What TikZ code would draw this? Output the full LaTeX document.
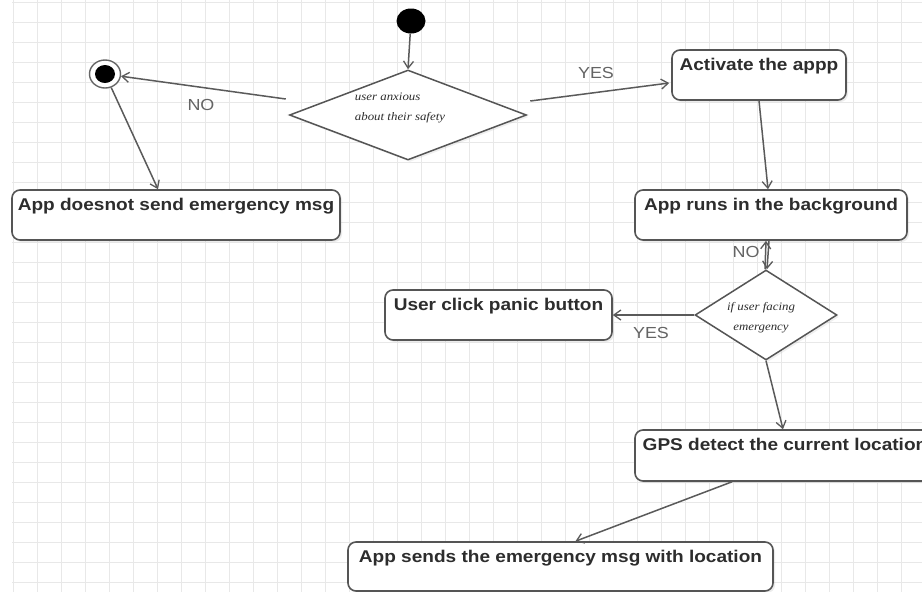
\documentclass[tikz,border=0pt]{standalone}
\usepackage{fontspec}
\setmainfont{Liberation Sans}
\newfontfamily\stretchsans[FakeStretch=1.12]{Liberation Sans}
\newfontfamily\dfont[FakeStretch=1.12]{Liberation Serif}
\usetikzlibrary{shapes.geometric,arrows.meta,shadows}
\definecolor{gridc}{RGB}{232,232,232}
\definecolor{linec}{RGB}{85,85,85}
\definecolor{edgec}{RGB}{90,90,90}
\definecolor{lblc}{RGB}{100,100,100}
\definecolor{txtc}{RGB}{45,45,45}
\begin{document}
\begin{tikzpicture}[x=1pt,y=-1pt,
  actbox/.style={rectangle, rounded corners=8pt, draw=linec, line width=1.6pt, fill=white, inner sep=0,
    drop shadow={shadow xshift=2pt,shadow yshift=-2pt,opacity=.15}},
  boxtxt/.style={font=\stretchsans\bfseries\fontsize{17}{20}\selectfont, text=txtc, anchor=north, inner sep=0, yshift=-9pt},
  decision/.style={diamond, draw=linec, line width=1.5pt, fill=white, inner sep=0,
    drop shadow={shadow xshift=2pt,shadow yshift=-2pt,opacity=.12}},
  dtxt/.style={font=\dfont\itshape\fontsize{11.5}{20}\selectfont, text=txtc, inner sep=0},
  lbl/.style={font=\stretchsans\fontsize{16}{18}\selectfont, text=lblc, inner sep=0},
  flow/.style={draw=edgec, line width=1.5pt, -{Straight Barb[length=7pt,width=10pt,line width=1.3pt]}}
]
\clip (0,0) rectangle (922,592);
\fill[white] (0,0) rectangle (922,592);
% grid
\foreach \i in {0,...,38} \draw[gridc, line width=1pt] ({13+24*\i},0) -- ({13+24*\i},592);
\foreach \j in {0,...,29} \draw[gridc, line width=1pt] (12,{2+20*\j}) -- (922,{2+20*\j});

% start / end
\node[ellipse, fill=black, minimum width=29pt, minimum height=25pt, inner sep=0] (start) at (411,21) {};
\node[ellipse, draw=black!60, line width=1.4pt, fill=white, minimum width=31pt, minimum height=28pt, inner sep=0,
  path picture={\fill[black] (path picture bounding box.center) ellipse [x radius=10pt, y radius=9pt];}] (endc) at (105,74) {};

% decisions
\node[decision, minimum width=237pt, minimum height=90pt,
  label={[dtxt, align=left, xshift=-8pt, yshift=7pt]center:user anxious\\about their safety}] (d1) at (408,115) {};
\node[decision, minimum width=142pt, minimum height=90pt,
  label={[dtxt, align=center, xshift=-5pt, yshift=-2.5pt]center:if user facing\\emergency}] (d2) at (766,315) {};

% activity boxes
\node[actbox, minimum width=328pt, minimum height=50pt, label={[boxtxt]north:App doesnot send emergency msg}] (bno) at (176,215) {};
\node[actbox, minimum width=174pt, minimum height=50pt, label={[boxtxt]north:Activate the appp}] (act) at (759,75) {};
\node[actbox, minimum width=272pt, minimum height=50pt, label={[boxtxt]north:App runs in the background}] (bg) at (771,215) {};
\node[actbox, minimum width=227pt, minimum height=50pt, label={[boxtxt]north:User click panic button}] (panic) at (498.5,315) {};
\node[actbox, minimum width=300pt, minimum height=51pt, label={[boxtxt]north:GPS detect the current location}] (gps) at (785,455.5) {};
\node[actbox, minimum width=425pt, minimum height=49pt, label={[boxtxt]north:App sends the emergency msg with location}] (send) at (560.5,566.5) {};

% connectors
\draw[flow] (start) -- (d1.north);
\draw[flow] ([shift={(-3,-16)}]d1.west) -- (endc);
\draw[flow] (endc) -- ([xshift=-18pt]bno.north);
\draw[flow] ([shift={(3,-14)}]d1.east) -- ([shift={(-2,8)}]act.west);
\draw[flow] (act.south) -- ([xshift=-3pt]bg.north);
\draw[flow] ([xshift=-2pt]bg.south) -- ([xshift=1pt]d2.north);
\draw[flow] ([xshift=-1pt]d2.north) -- ([xshift=-5pt]bg.south);
\draw[flow] (d2.west) -- (panic.east);
\draw[flow] (d2.south) -- ([xshift=-2pt]gps.north);
\draw[flow] ([xshift=-53pt]gps.south) -- ([xshift=15pt]send.north);

% labels
\node[lbl] (lno1) at (201,105) {NO};
\node[lbl] (lyes1) at (596,73) {YES};
\node[lbl] (lno2) at (746,252) {NO};
\node[lbl] (lyes2) at (651,333) {YES};
\end{tikzpicture}
\end{document}
